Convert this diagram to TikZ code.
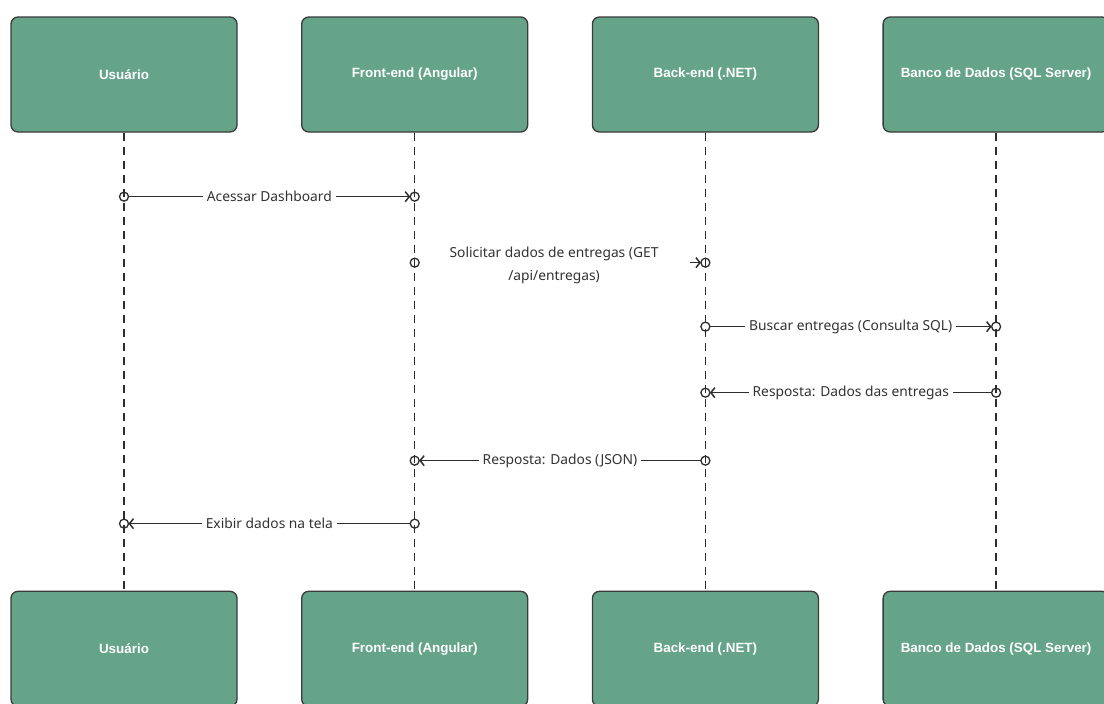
\documentclass[tikz,border=0pt]{standalone}
\usepackage{fontspec}
\setmainfont{Noto Sans}
\newfontfamily\boxfont{Liberation Sans}
\usetikzlibrary{positioning, arrows.meta, calc}
\definecolor{seqGreen}{RGB}{101,164,137}
\definecolor{seqBorder}{RGB}{58,58,58}
\definecolor{seqLine}{RGB}{45,45,45}
\definecolor{seqText}{RGB}{50,50,50}

\begin{document}
\begin{tikzpicture}[x=1pt, y=1pt, node distance=63.4pt,
	actor/.style={draw=seqBorder, line width=1.3pt, rounded corners=7pt, fill=seqGreen, minimum width=226pt, minimum height=115pt, text=white, font=\boxfont\bfseries\fontsize{13.4}{15}\selectfont},
	lifeline/.style={seqLine, line width=1.5pt, dash pattern=on 8pt off 6pt},
	msg/.style={seqLine, line width=1.5pt, shorten <=4.5pt, shorten >=4.5pt, -{Straight Barb[length=4pt, width=10pt]}},
	msglabel/.style={fill=white, text=seqText, font=\fontsize{13.8}{23}\selectfont, inner sep=4pt},
	endpt/.style={seqLine, line width=1.3pt}]
	\useasboundingbox (0,0) rectangle (1104,-704);
	\fill[white] (0,0) rectangle (1104,-704);
	% participants
	\node[actor] (usr) at (124,-74.5) {Usuário};
	\node[actor, right=of usr] (front) {Front-end (Angular)};
	\node[actor, right=of front] (back) {Back-end (.NET)};
	\node[actor, right=of back] (db) {Banco de Dados (SQL Server)};
	\node[actor, below=458pt of usr] (usr2) {Usuário};
	\node[actor, below=458pt of front] (front2) {Front-end (Angular)};
	\node[actor, below=458pt of back] (back2) {Back-end (.NET)};
	\node[actor, below=458pt of db] (db2) {Banco de Dados (SQL Server)};
	% lifelines
	\draw[lifeline] (usr) -- (usr2);
	\draw[lifeline] (front) -- (front2);
	\draw[lifeline] (back) -- (back2);
	\draw[lifeline] (db) -- (db2);
	% message points
	\coordinate (u1) at ([yshift=-64pt]usr.south);
	\coordinate (f1) at ([yshift=-64pt]front.south);
	\coordinate (f2) at ([yshift=-130pt]front.south);
	\coordinate (b2) at ([yshift=-130pt]back.south);
	\coordinate (b3) at ([yshift=-194pt]back.south);
	\coordinate (d3) at ([yshift=-194pt]db.south);
	\coordinate (d4) at ([yshift=-260pt]db.south);
	\coordinate (b4) at ([yshift=-260pt]back.south);
	\coordinate (b5) at ([yshift=-328pt]back.south);
	\coordinate (f5) at ([yshift=-328pt]front.south);
	\coordinate (f6) at ([yshift=-391pt]front.south);
	\coordinate (u6) at ([yshift=-391pt]usr.south);
	% messages
	\draw[msg] (u1) -- node[msglabel] {Acessar Dashboard} (f1);
	\draw[msg] (f2) -- node[msglabel, text width=263pt, align=flush center, xshift=-6pt, yshift=-3pt] {Solicitar dados de entregas (GET /api/entregas)} (b2);
	\draw[msg] (b3) -- node[msglabel] {Buscar entregas (Consulta SQL)} (d3);
	\draw[msg] (d4) -- node[msglabel] {Resposta: Dados das entregas} (b4);
	\draw[msg] (b5) -- node[msglabel] {Resposta: Dados (JSON)} (f5);
	\draw[msg] (f6) -- node[msglabel] {Exibir dados na tela} (u6);
	\foreach \p in {u1,f1,f2,b2,b3,d3,d4,b4,b5,f5,f6,u6}
		\draw[endpt] (\p) circle (4.5pt);
\end{tikzpicture}
\end{document}
